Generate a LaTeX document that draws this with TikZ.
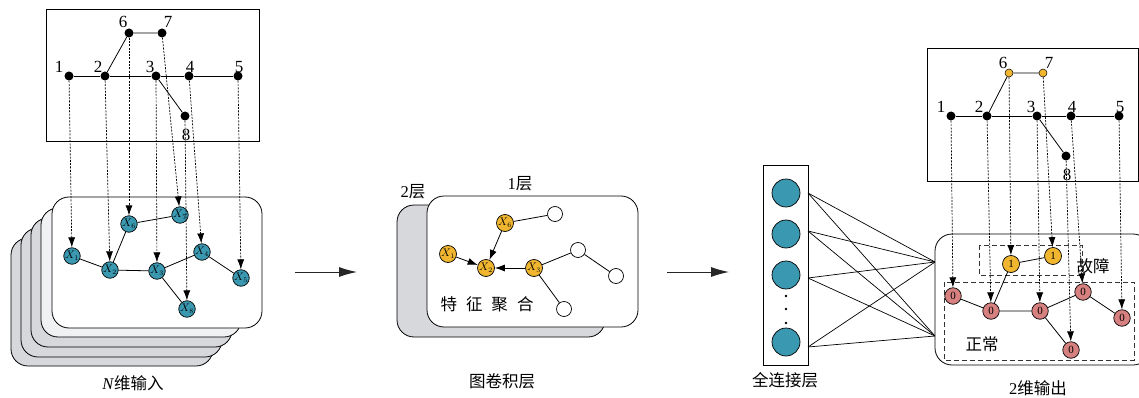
\documentclass[tikz,border=0pt]{standalone}
\usepackage{fontspec}
\setmainfont{Liberation Serif}
\newfontfamily\cjk{Noto Sans CJK SC}
\usetikzlibrary{arrows.meta}
\definecolor{tealc}{RGB}{58,152,176}
\definecolor{yelc}{RGB}{240,182,48}
\definecolor{pinkc}{RGB}{214,128,128}
\definecolor{grayc}{RGB}{214,216,220}
\definecolor{lightc}{RGB}{240,241,243}
\begin{document}
\begin{tikzpicture}[x=1pt,y=-1pt,
  dot/.style={circle,fill=black,inner sep=0pt,minimum size=9pt},
  odot/.style={circle,fill=yelc,draw=black,line width=0.5pt,inner sep=0pt,minimum size=8pt},
  gn/.style={circle,draw=black,line width=0.7pt,inner sep=0pt,minimum size=16.5pt,font=\fontsize{10.5}{10.5}\selectfont},
  tn/.style={gn,fill=tealc},
  yn/.style={gn,fill=yelc,minimum size=17pt},
  wn/.style={gn,fill=white,minimum size=15pt},
  pn/.style={gn,fill=pinkc,font=\fontsize{11}{11}\selectfont},
  on/.style={gn,fill=yelc,minimum size=17pt,font=\fontsize{11}{11}\selectfont},
  fcn/.style={circle,draw=black,line width=0.7pt,fill=tealc,inner sep=0pt,minimum size=28pt},
  num/.style={font=\fontsize{17}{17}\selectfont,inner sep=0pt},
  captxt/.style={font=\cjk\fontsize{16.5}{16.5}\selectfont,inner sep=0pt},
  ed/.style={line width=0.8pt},
  card/.style={draw=black,line width=0.8pt,rounded corners=17pt},
  dasharr/.style={line width=0.7pt,dash pattern=on 2pt off 1.3pt,-{Latex[length=10pt,width=7pt]}},
  bigarr/.style={line width=1pt,draw=black!85,-{Latex[length=18pt,width=10pt]}},
  boxl/.style={dash pattern=on 5pt off 3pt,line width=0.9pt,draw=black!80}
]
\useasboundingbox (0,0) rectangle (1139,398);
\clip (0,0) rectangle (1139,398);

% ===== Left panel =====
\draw[line width=0.8pt] (46,9) rectangle (259,141);
\node[dot] (a1) at (69,76) {};
\node[dot] (a2) at (105,76) {};
\node[dot] (a3) at (156,76) {};
\node[dot] (a4) at (189,76) {};
\node[dot] (a5) at (238,76) {};
\node[dot] (a6) at (129,33) {};
\node[dot] (a7) at (162,33) {};
\node[dot] (a8) at (185,116) {};
\node[num] (la1) at (59,67) {1};
\node[num] (la2) at (98,67) {2};
\node[num] (la3) at (150,67) {3};
\node[num] (la4) at (190,67) {4};
\node[num] (la5) at (239,67) {5};
\node[num] (la6) at (123,22) {6};
\node[num] (la7) at (168,22) {7};
\node[num] (la8) at (186,135) {8};
\draw[ed] (a1) -- (a2) -- (a3) -- (a4) -- (a5);
\draw[ed] (a2) -- (a6) -- (a7);
\draw[ed] (a3) -- (a8);

\draw[card,fill=grayc] (11,238) rectangle (213,366);
\draw[card,fill=grayc] (21,228) rectangle (222,357);
\draw[card,fill=grayc] (31,218) rectangle (232,347);
\draw[card,fill=lightc] (41,208) rectangle (241,337);
\draw[card,fill=white] (52,197) rectangle (262,328);

\node[tn] (x1) at (72,256) {$X_1$};
\node[tn] (x2) at (110,270) {$X_2$};
\node[tn] (x3) at (157,271) {$X_3$};
\node[tn] (x4) at (202,252) {$X_4$};
\node[tn] (x5) at (241,278) {$X_5$};
\node[tn] (x6) at (129,224) {$X_6$};
\node[tn] (x7) at (180,215) {$X_7$};
\node[tn] (x8) at (187,309) {$X_8$};
\draw[ed] (x1) -- (x2) -- (x3) -- (x4) -- (x5);
\draw[ed] (x2) -- (x6) -- (x7);
\draw[ed] (x3) -- (x8);
\foreach \i in {1,...,8} { \draw[dasharr] (a\i) -- (x\i); }
\node[captxt] (capN) at (133,383) {\textrm{\textit{N}}维输入};

\coordinate (ar1s) at (295,272);
\coordinate (ar1e) at (357,272);
\draw[bigarr] (ar1s) -- (ar1e);

% ===== Middle panel =====
\draw[card,fill=grayc] (397,205) rectangle (605,337);
\draw[card,fill=white] (427,196) rectangle (638,327);
\node[captxt] (l2) at (413,192) {\textrm{2}层};
\node[captxt] (l1) at (520,184) {\textrm{1}层};
\node[yn] (m6) at (505,223) {$X_6$};
\node[yn] (m1) at (448,254) {$X_1$};
\node[yn] (m2) at (486,268) {$X_2$};
\node[yn] (m3) at (534,268) {$X_3$};
\node[wn] (w1) at (555,214) {};
\node[wn] (w2) at (578,250) {};
\node[wn] (w3) at (616,276) {};
\node[wn] (w4) at (564,309) {};
\draw[ed] (m6) -- (w1);
\draw[ed] (m3) -- (w2) -- (w3);
\draw[ed] (m3) -- (w4);
\draw[ed,-{Latex[length=10pt,width=7pt]}] (m6) -- (m2);
\draw[ed,-{Latex[length=10pt,width=7pt]}] (m1) -- (m2);
\draw[ed,-{Latex[length=10pt,width=7pt]}] (m3) -- (m2);
\node[captxt] (agg) at (487,304) {特\hspace{9pt}征\hspace{9pt}聚\hspace{9pt}合};
\node[captxt] (capG) at (502,381) {图卷积层};

\coordinate (ar2s) at (667,272);
\coordinate (ar2e) at (729,272);
\draw[bigarr] (ar2s) -- (ar2e);

% ===== Fully connected =====
\draw[line width=0.8pt] (763,165) rectangle (808,365);
\node[fcn] (f1) at (786,193) {};
\node[fcn] (f2) at (786,234) {};
\node[fcn] (f3) at (786,275) {};
\node[fcn] (f4) at (786,342) {};
\foreach \yy in {296,309,323} { \fill (786,\yy) circle (1.4pt); }
\coordinate (s1) at (808,193);
\coordinate (s2) at (808,231);
\coordinate (s3) at (808,278);
\coordinate (s4) at (808,347);
\coordinate (t1) at (935,262);
\coordinate (t2) at (935,336);
\foreach \i in {1,...,4} { \draw[line width=0.7pt] (s\i) -- (t1); \draw[line width=0.7pt] (s\i) -- (t2); }
\node[captxt] (capF) at (785,380) {全连接层};

% ===== Right panel =====
\draw[line width=0.8pt] (927,48) rectangle (1138,181);
\node[dot] (b1) at (951,116) {};
\node[dot] (b2) at (987,116) {};
\node[dot] (b3) at (1037,116) {};
\node[dot] (b4) at (1071,116) {};
\node[dot] (b5) at (1119,116) {};
\node[odot] (b6) at (1009,73) {};
\node[odot] (b7) at (1043,73) {};
\node[dot] (b8) at (1066,156) {};
\node[num] (lb1) at (941,107) {1};
\node[num] (lb2) at (979,107) {2};
\node[num] (lb3) at (1031,107) {3};
\node[num] (lb4) at (1072,107) {4};
\node[num] (lb5) at (1120,107) {5};
\node[num] (lb6) at (1003,63) {6};
\node[num] (lb7) at (1049,63) {7};
\node[num] (lb8) at (1067,175) {8};
\draw[ed] (b1) -- (b2) -- (b3) -- (b4) -- (b5);
\draw[ed] (b2) -- (b6) -- (b7);
\draw[ed] (b3) -- (b8);

\draw[card,fill=white] (935,234) rectangle (1150,365);
\draw[boxl] (979,245) rectangle (1082,275);
\draw[boxl] (944,282) rectangle (1134,360);
\node[captxt] (gz) at (1093,266) {故障};
\node[captxt] (zc) at (982,344) {正常};

\node[on] (y6) at (1011,264) {1};
\node[on] (y7) at (1053,256) {1};
\node[pn] (y1) at (953,296) {0};
\node[pn] (y2) at (991,311) {0};
\node[pn] (y3) at (1040,311) {0};
\node[pn] (y4) at (1083,292) {0};
\node[pn] (y5) at (1122,318) {0};
\node[pn] (y8) at (1071,350) {0};
\draw[ed] (y1) -- (y2) -- (y3) -- (y4) -- (y5);
\draw[ed] (y2) -- (y6) -- (y7);
\draw[ed] (y3) -- (y8);
\foreach \i in {1,...,8} { \draw[dasharr] (b\i) -- (y\i); }
\node[captxt] (capO) at (1038,388) {\textrm{2}维输出};
\end{tikzpicture}
\end{document}
